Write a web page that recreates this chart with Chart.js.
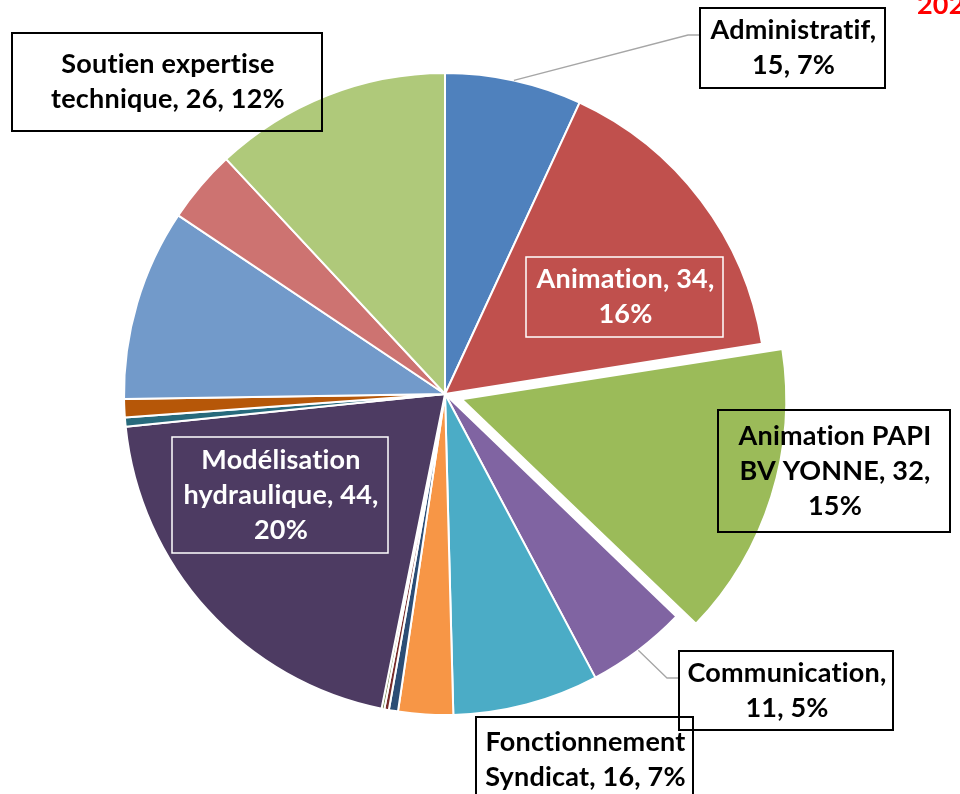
<!DOCTYPE html>
<html lang="fr">
<head>
<meta charset="UTF-8">
<title>Répartition du temps</title>
<script src="https://cdn.jsdelivr.net/npm/chart.js"></script>
<style>
  body { margin: 0; background: #fff; }
  canvas { display: block; }
</style>
</head>
<body>
<canvas id="pie" width="960" height="794"></canvas>

<script>
// categories et valeurs
const categories = [
  'Administratif', 'Animation', 'Animation PAPI BV YONNE', 'Communication',
  'Fonctionnement Syndicat', 'Divers 1', 'Divers 2', 'Divers 3', 'Divers 4',
  'Modélisation hydraulique', 'Divers 5', 'Divers 6', 'Divers 7', 'Divers 8',
  'Soutien expertise technique'
];
const values = [15, 34, 32, 11, 16, 6, 1, 0.5, 0.3, 44, 1, 2, 21, 8, 26];
const colors = [
  '#4F81BD', '#C0504D', '#9BBB59', '#8064A2', '#4BACC6', '#F79646',
  '#2C4D75', '#772C2A', '#5F7530', '#4D3B62', '#276A7C', '#B65708',
  '#729ACA', '#CD7371', '#AFC97A'
];
const titleText = '2021';

// étiquettes : index de la part, cadre, coupures de ligne (nb de mots), style
const labelBoxes = [
  { i: 0,  box: [700, 8, 185, 80],    breaks: [1],    color: '#000', border: '#000', leader: [[688, 35], [700, 35]] },
  { i: 1,  box: [526, 257, 197, 80],  breaks: [2],    color: '#fff', border: '#fff' },
  { i: 2,  box: [718, 410, 232, 122], breaks: [2, 5], color: '#000', border: '#000' },
  { i: 3,  box: [679, 651, 214, 79],  breaks: [1],    color: '#000', border: '#000', leader: [[667, 678], [679, 678]] },
  { i: 4,  box: [476, 717, 217, 90],  breaks: [1],    color: '#000', border: '#000', top: 742 },
  { i: 9,  box: [172, 437, 216, 116], breaks: [1, 3], color: '#fff', border: '#fff' },
  { i: 14, box: [12, 33, 310, 98],    breaks: [2],    color: '#000', border: '#000' }
];

const total = values.reduce((a, b) => a + b, 0);
const FONT = 'bold 27px Lato, "Open Sans", sans-serif';

function splitLines(text, breaks) {
  const words = text.split(' ');
  const cuts = [0, ...breaks, words.length];
  const lines = [];
  for (let k = 0; k < cuts.length - 1; k++) lines.push(words.slice(cuts[k], cuts[k + 1]).join(' '));
  return lines;
}

const labelPlugin = {
  id: 'labels',
  afterDraw(chart) {
    const ctx = chart.ctx;
    const arcs = chart.getDatasetMeta(0).data;
    ctx.save();

    // lignes de rappel
    labelBoxes.forEach(lb => {
      if (!lb.leader) return;
      const a = arcs[lb.i];
      const mid = (a.startAngle + a.endAngle) / 2;
      ctx.strokeStyle = '#A6A6A6';
      ctx.lineWidth = 1.3;
      ctx.beginPath();
      ctx.moveTo(a.x + Math.cos(mid) * a.outerRadius, a.y + Math.sin(mid) * a.outerRadius);
      lb.leader.forEach(p => ctx.lineTo(p[0], p[1]));
      ctx.stroke();
    });

    ctx.font = FONT;
    ctx.letterSpacing = '0.2px';
    ctx.textAlign = 'center';
    ctx.textBaseline = 'middle';
    labelBoxes.forEach(lb => {
      const [x, y, w, h] = lb.box;
      ctx.strokeStyle = lb.border;
      ctx.lineWidth = lb.color === '#fff' ? 1.5 : 2;
      ctx.strokeRect(x, y, w, h);
      const v = values[lb.i];
      const txt = categories[lb.i] + ', ' + v + ', ' + Math.round(v / total * 100) + '%';
      const lines = splitLines(txt, lb.breaks);
      const lh = 35;
      const cy = lb.top || (y + h / 2 - (lines.length - 1) * lh / 2);
      ctx.fillStyle = lb.color;
      lines.forEach((l, k) => ctx.fillText(l, x + w / 2 + 1, cy + k * lh));
    });

    // titre (coupé au bord)
    ctx.fillStyle = '#FF0000';
    ctx.textAlign = 'left';
    ctx.textBaseline = 'alphabetic';
    ctx.font = 'bold 27px Lato, sans-serif';
    ctx.fillText(titleText, 917, 14);
    ctx.restore();
  }
};

new Chart(document.getElementById('pie'), {
  type: 'pie',
  data: {
    labels: categories,
    datasets: [{
      data: values,
      backgroundColor: colors,
      borderColor: '#fff',
      borderWidth: 2,
      offset: values.map((v, i) => i === 2 ? 70 : 0),
      radius: 321
    }]
  },
  options: {
    responsive: false,
    animation: false,
    layout: { padding: { left: 0, right: 70, top: 0, bottom: 6 } },
    plugins: {
      legend: { display: false },
      tooltip: { enabled: false }
    }
  },
  plugins: [labelPlugin]
});
</script>
</body>
</html>
